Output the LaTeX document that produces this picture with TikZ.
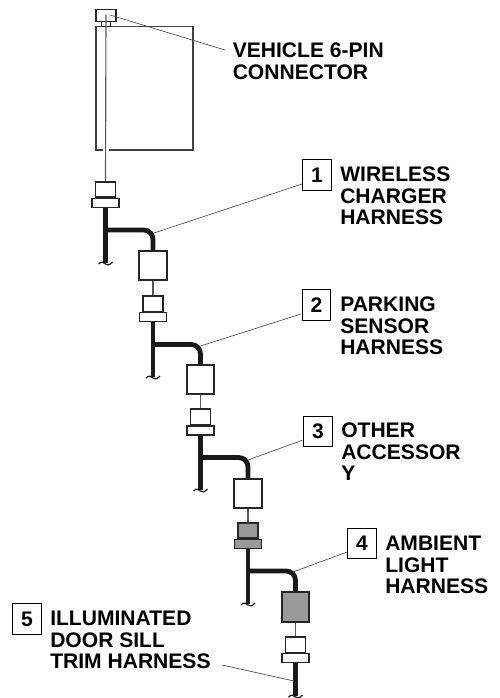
\documentclass[tikz,border=0pt]{standalone}
\usepackage{fontspec}
\setmainfont{Liberation Sans}

\tikzset{
    boxline/.style={draw=black!85, line width=1.25pt, inner sep=0pt},
    plugtop/.style={boxline, minimum width=14.8pt, minimum height=11.6pt},
    plugflange/.style={boxline, minimum width=20.4pt, minimum height=6.6pt},
    endbox/.style={boxline, minimum width=20.6pt, minimum height=22.2pt},
    harness/.style={draw=black!90, line width=3.6pt},
    thinwire/.style={draw=black!65, line width=0.85pt},
    leader/.style={draw=black!70, line width=0.5pt},
    tagbox/.style={draw=black, line width=0.8pt, minimum width=21.4pt, minimum height=22.6pt, inner sep=0pt,
        font=\bfseries\fontsize{15.8}{16}\selectfont},
    caption/.style={align=left, inner sep=0pt, anchor=north west,
        font=\bfseries\fontsize{15.8}{16.1}\selectfont},
    tailend/.pic={\draw[draw=black!90, line width=0.9pt]
        (-7, 1) .. controls (-4, -2) and (-2, -1) .. (0, 1) .. controls (2, 3) and (4, 2) .. (7, -1);}
}

\begin{document}
\begin{tikzpicture}[x=0.75pt, y=-0.75pt]
    \useasboundingbox (0, 0) rectangle (499, 698);

    % vehicle side
    \draw[draw=black!75, line width=0.85pt] (103, 150) -- (96, 150) -- (96, 26.5) -- (193, 26.5) -- (193, 150) -- (108.5, 150);
    \node[draw=black!85, line width=0.7pt, inner sep=0pt, minimum width=7.4pt, minimum height=3.2pt] (neck) at (106, 24) {};
    \node[boxline, minimum width=14.8pt, minimum height=8.8pt] (pin) at (106, 15.5) {};
    \coordinate (pinwire) at (106, 15);
    \coordinate (pinhook) at (110, 15);
    \coordinate (pinhookt) at (225, 50);

    % plugs
    \node[plugtop] (top1) at (105.5, 189.5) {};
    \node[plugflange] (flange1) at (105.5, 203) {};
    \node[plugtop] (top2) at (153, 304) {};
    \node[plugflange] (flange2) at (153, 317) {};
    \node[plugtop] (top3) at (200.5, 417) {};
    \node[plugflange] (flange3) at (200.5, 430.5) {};
    \node[plugtop, fill=black!40] (top4) at (248, 530.5) {};
    \node[plugflange, fill=black!40] (flange4) at (248, 544) {};
    \node[plugtop] (top5) at (295.5, 645) {};
    \node[plugflange] (flange5) at (295.5, 658) {};

    % boxes at the end of each branch
    \node[endbox] (box1) at (153, 265.5) {};
    \node[endbox] (box2) at (200.5, 379.5) {};
    \node[endbox] (box3) at (248, 493.5) {};
    \node[endbox, fill=black!40] (box4) at (295.5, 607) {};

    % thin wires
    \draw[thinwire] (pinwire) -- (top1.north);
    \draw[thinwire] (box1.south) -- (top2.north);
    \draw[thinwire] (box2.south) -- (top3.north);
    \draw[thinwire] (box3.south) -- (top4.north);
    \draw[thinwire] (box4.south) -- (top5.north);

    % harness tails and branches
    \coordinate (tail1) at (105.5, 263);
    \coordinate (tail2) at (153, 377);
    \coordinate (tail3) at (200.5, 490);
    \coordinate (tail4) at (248, 604);
    \coordinate (tail5) at (295.5, 696);
    \coordinate (fork1) at (105.5, 230);
    \coordinate (fork2) at (153, 344.5);
    \coordinate (fork3) at (200.5, 457.5);
    \coordinate (fork4) at (248, 571);
    \draw[harness] (flange1.south) -- (tail1);
    \draw[harness] (flange2.south) -- (tail2);
    \draw[harness] (flange3.south) -- (tail3);
    \draw[harness] (flange4.south) -- (tail4);
    \draw[harness] (flange5.south) -- (tail5);
    \draw[harness, rounded corners=7pt] (fork1) -| (box1.north);
    \draw[harness, rounded corners=7pt] (fork2) -| (box2.north);
    \draw[harness, rounded corners=7pt] (fork3) -| (box3.north);
    \draw[harness, rounded corners=7pt] (fork4) -| (box4.north);
    \pic at (tail1) {tailend};
    \pic at (tail2) {tailend};
    \pic at (tail3) {tailend};
    \pic at (tail4) {tailend};
    \pic at (tail5) {tailend};

    % numbered tags
    \node[tagbox] (tag1) at (317, 175) {1};
    \node[tagbox] (tag2) at (316.5, 305) {2};
    \node[tagbox] (tag3) at (318, 431.7) {3};
    \node[tagbox] (tag4) at (362, 543.7) {4};
    \node[tagbox] (tag5) at (27, 619) {5};

    % captions
    \node[caption] (vehiclecap) at (232.5, 43) {VEHICLE 6-PIN\\CONNECTOR};
    \node[caption] (cap1) at (340, 167) {WIRELESS\\CHARGER\\HARNESS};
    \node[caption] (cap2) at (340, 297) {PARKING\\SENSOR\\HARNESS};
    \node[caption] (cap3) at (341, 423) {OTHER\\ACCESSOR\\Y};
    \node[caption] (cap4) at (385, 536) {AMBIENT\\LIGHT\\HARNESS};
    \node[caption] (cap5) at (50, 611) {ILLUMINATED\\DOOR SILL\\TRIM HARNESS};

    % leaders
    \coordinate (hook1) at (154, 233);
    \coordinate (hook1t) at (302, 184);
    \coordinate (hook2) at (200.5, 346);
    \coordinate (hook2t) at (301, 314);
    \coordinate (hook3) at (248, 460);
    \coordinate (hook3t) at (303, 440);
    \coordinate (hook4) at (293, 572);
    \coordinate (hook4t) at (347, 552);
    \coordinate (hook5) at (294, 681);
    \coordinate (hook5t) at (222, 665);
    \draw[leader] (pinhook) -- (pinhookt);
    \draw[leader] (hook1) -- (hook1t);
    \draw[leader] (hook2) -- (hook2t);
    \draw[leader] (hook3) -- (hook3t);
    \draw[leader] (hook4) -- (hook4t);
    \draw[leader] (hook5) -- (hook5t);
\end{tikzpicture}
\end{document}
